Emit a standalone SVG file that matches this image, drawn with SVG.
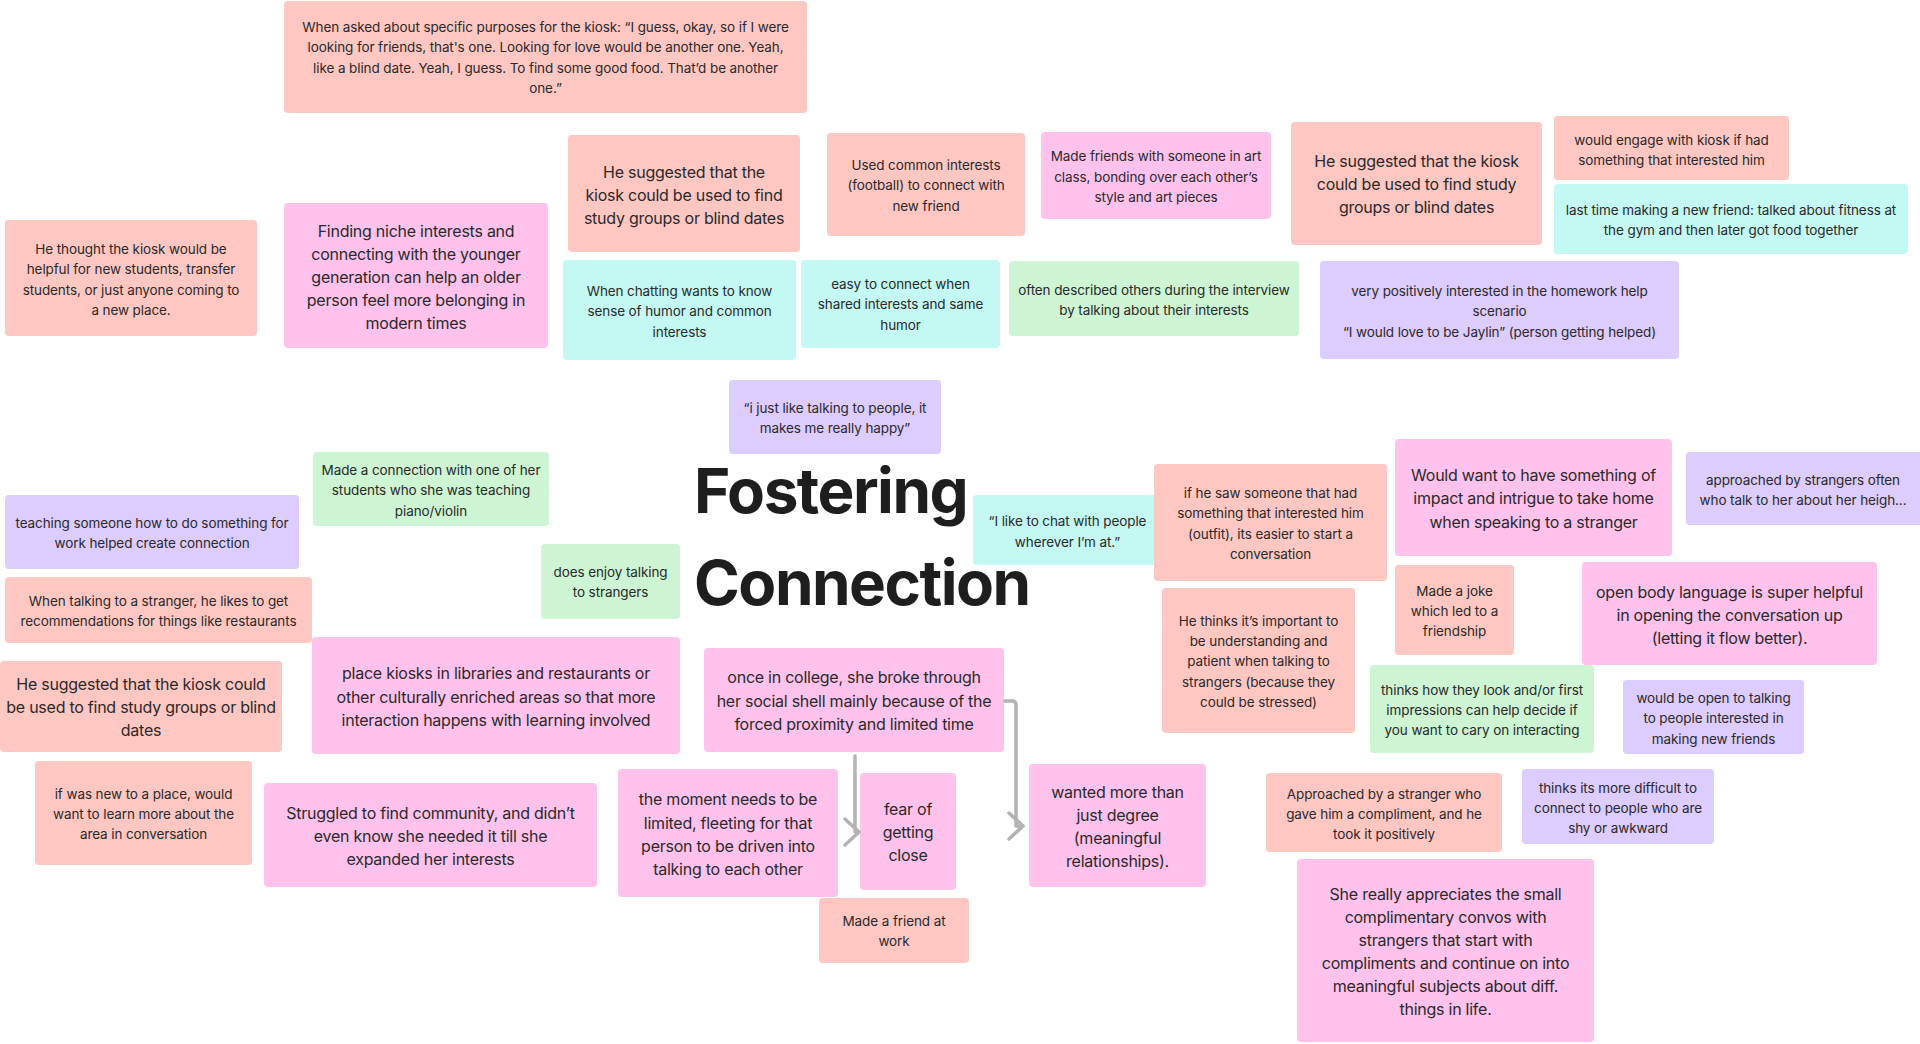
<svg xmlns="http://www.w3.org/2000/svg" width="1920" height="1044" viewBox="0 0 1920 1044">
<defs>
<style>
.r{fill:#FFC7C2}.p{fill:#FFC2EC}.c{fill:#C4F8F3}.g{fill:#CDF4D3}.v{fill:#DCCCFF}
rect{rx:4px;ry:4px}
text{font-family:Inter,"Noto Sans","Liberation Sans",sans-serif;fill:#2a2a2a;text-anchor:middle;dominant-baseline:central}
.s{font-size:13.5px;letter-spacing:-0.1px}.l{font-size:16px;letter-spacing:-0.25px}
.t{font-size:62px;font-weight:700;letter-spacing:-1.5px;fill:#1e1e1e;text-anchor:start;dominant-baseline:alphabetic}
.con{fill:none;stroke:#b3b3b3;stroke-width:3.5;stroke-linecap:round;stroke-linejoin:round}
</style>
<marker id="chev" markerUnits="userSpaceOnUse" markerWidth="20" markerHeight="32" viewBox="-17 -16 20 32" refX="0" refY="0" orient="auto"><path d="M-14,-13 L0,0 L-14,13" fill="none" stroke="#b3b3b3" stroke-width="3.5" stroke-linecap="round" stroke-linejoin="round"/></marker>
</defs>
<rect width="1920" height="1044" fill="#ffffff" style="rx:0"/>

<g id="title"><text class="t" x="694" y="513">Fostering</text><text class="t" x="694" y="605">Connection</text></g>

<g id="n1"><rect class="r" x="284" y="1" width="523" height="112"/><text class="s" y="27"><tspan x="545.5">When asked about specific purposes for the kiosk: “I guess, okay, so if I were</tspan><tspan x="545.5" y="47">looking for friends, that's one. Looking for love would be another one. Yeah,</tspan><tspan x="545.5" y="68">like a blind date. Yeah, I guess. To find some good food. That’d be another</tspan><tspan x="545.5" y="88">one.”</tspan></text></g>

<g id="n2"><rect class="r" x="5" y="220" width="252" height="116"/><text class="s" y="249"><tspan x="131">He thought the kiosk would be</tspan><tspan x="131" y="269">helpful for new students, transfer</tspan><tspan x="131" y="290">students, or just anyone coming to</tspan><tspan x="131" y="310">a new place.</tspan></text></g>

<g id="n3"><rect class="p" x="284" y="203" width="264" height="145"/><text class="l" y="231"><tspan x="416">Finding niche interests and</tspan><tspan x="416" y="254">connecting with the younger</tspan><tspan x="416" y="277">generation can help an older</tspan><tspan x="416" y="300">person feel more belonging in</tspan><tspan x="416" y="323">modern times</tspan></text></g>

<g id="n4"><rect class="r" x="568" y="135" width="232" height="117"/><text class="l" y="172"><tspan x="684">He suggested that the</tspan><tspan x="684" y="195">kiosk could be used to find</tspan><tspan x="684" y="218">study groups or blind dates</tspan></text></g>

<g id="n5"><rect class="r" x="827" y="133" width="198" height="103"/><text class="s" y="165"><tspan x="926">Used common interests</tspan><tspan x="926" y="185">(football) to connect with</tspan><tspan x="926" y="206">new friend</tspan></text></g>

<g id="n6"><rect class="p" x="1041" y="132" width="230" height="87"/><text class="s" y="156"><tspan x="1156">Made friends with someone in art</tspan><tspan x="1156" y="177">class, bonding over each other’s</tspan><tspan x="1156" y="197">style and art pieces</tspan></text></g>

<g id="n7"><rect class="r" x="1291" y="122" width="251" height="123"/><text class="l" y="161"><tspan x="1416.5">He suggested that the kiosk</tspan><tspan x="1416.5" y="184">could be used to find study</tspan><tspan x="1416.5" y="207">groups or blind dates</tspan></text></g>

<g id="n8"><rect class="r" x="1554" y="116" width="235" height="64"/><text class="s" y="140"><tspan x="1671.5">would engage with kiosk if had</tspan><tspan x="1671.5" y="160">something that interested him</tspan></text></g>

<g id="n9"><rect class="c" x="1554" y="184" width="354" height="70"/><text class="s" y="210"><tspan x="1731">last time making a new friend: talked about fitness at</tspan><tspan x="1731" y="230">the gym and then later got food together</tspan></text></g>

<g id="n10"><rect class="c" x="563" y="260" width="233" height="100"/><text class="s" y="291"><tspan x="679.5">When chatting wants to know</tspan><tspan x="679.5" y="311">sense of humor and common</tspan><tspan x="679.5" y="332">interests</tspan></text></g>

<g id="n11"><rect class="c" x="801" y="260" width="199" height="88"/><text class="s" y="284"><tspan x="900.5">easy to connect when</tspan><tspan x="900.5" y="304">shared interests and same</tspan><tspan x="900.5" y="325">humor</tspan></text></g>

<g id="n12"><rect class="g" x="1009" y="261" width="290" height="75"/><text class="s" y="290"><tspan x="1154">often described others during the interview</tspan><tspan x="1154" y="310">by talking about their interests</tspan></text></g>

<g id="n13"><rect class="v" x="1320" y="261" width="359" height="98"/><text class="s" y="291"><tspan x="1499.5">very positively interested in the homework help</tspan><tspan x="1499.5" y="311">scenario</tspan><tspan x="1499.5" y="332">“I would love to be Jaylin” (person getting helped)</tspan></text></g>

<g id="n14"><rect class="v" x="729" y="380" width="212" height="74"/><text class="s" y="408"><tspan x="835">“i just like talking to people, it</tspan><tspan x="835" y="428">makes me really happy”</tspan></text></g>

<g id="n15"><rect class="g" x="313" y="452" width="236" height="74"/><text class="s" y="470"><tspan x="431">Made a connection with one of her</tspan><tspan x="431" y="490">students who she was teaching</tspan><tspan x="431" y="511">piano/violin</tspan></text></g>

<g id="n16"><rect class="v" x="5" y="495" width="294" height="74"/><text class="s" y="523"><tspan x="152">teaching someone how to do something for</tspan><tspan x="152" y="543">work helped create connection</tspan></text></g>

<g id="n17"><rect class="g" x="541" y="544" width="139" height="75"/><text class="s" y="572"><tspan x="610.5">does enjoy talking</tspan><tspan x="610.5" y="592">to strangers</tspan></text></g>

<g id="n18"><rect class="r" x="5" y="577" width="307" height="66"/><text class="s" y="601"><tspan x="158.5">When talking to a stranger, he likes to get</tspan><tspan x="158.5" y="621">recommendations for things like restaurants</tspan></text></g>

<g id="n19"><rect class="r" x="0" y="661" width="282" height="91"/><text class="l" y="684"><tspan x="141">He suggested that the kiosk could</tspan><tspan x="141" y="707">be used to find study groups or blind</tspan><tspan x="141" y="730">dates</tspan></text></g>

<g id="n20"><rect class="p" x="312" y="637" width="368" height="117"/><text class="l" y="673"><tspan x="496">place kiosks in libraries and restaurants or</tspan><tspan x="496" y="697">other culturally enriched areas so that more</tspan><tspan x="496" y="720">interaction happens with learning involved</tspan></text></g>

<g id="n21"><rect class="p" x="704" y="648" width="300" height="104"/><text class="l" y="677"><tspan x="854">once in college, she broke through</tspan><tspan x="854" y="701">her social shell mainly because of the</tspan><tspan x="854" y="724">forced proximity and limited time</tspan></text></g>

<g id="n22"><rect class="c" x="973" y="495" width="189" height="70"/><text class="s" y="521"><tspan x="1067.5">“I like to chat with people</tspan><tspan x="1067.5" y="542">wherever I’m at.”</tspan></text></g>

<g id="n23"><rect class="r" x="1154" y="464" width="233" height="117"/><text class="s" y="493"><tspan x="1270.5">if he saw someone that had</tspan><tspan x="1270.5" y="513">something that interested him</tspan><tspan x="1270.5" y="534">(outfit),  its easier to start a</tspan><tspan x="1270.5" y="554">conversation</tspan></text></g>

<g id="n24"><rect class="r" x="1162" y="588" width="193" height="145"/><text class="s" y="621"><tspan x="1258.5">He thinks it’s important to</tspan><tspan x="1258.5" y="641">be understanding and</tspan><tspan x="1258.5" y="661">patient when talking to</tspan><tspan x="1258.5" y="682">strangers (because they</tspan><tspan x="1258.5" y="702">could be stressed)</tspan></text></g>

<g id="n25"><rect class="p" x="1395" y="439" width="277" height="117"/><text class="l" y="475"><tspan x="1533.5">Would want to have something of</tspan><tspan x="1533.5" y="498">impact and intrigue to take home</tspan><tspan x="1533.5" y="522">when speaking to a stranger</tspan></text></g>

<g id="n26"><rect class="v" x="1686" y="452" width="236" height="73"/><text class="s" y="480"><tspan x="1803">approached by strangers often</tspan><tspan x="1803" y="500">who talk to her about her heigh...</tspan></text></g>

<g id="n27"><rect class="r" x="1395" y="565" width="119" height="90"/><text class="s" y="591"><tspan x="1454.5">Made a joke</tspan><tspan x="1454.5" y="611">which led to a</tspan><tspan x="1454.5" y="631">friendship</tspan></text></g>

<g id="n28"><rect class="p" x="1582" y="562" width="295" height="103"/><text class="l" y="592"><tspan x="1729.5">open body language is super helpful</tspan><tspan x="1729.5" y="615">in opening the conversation up</tspan><tspan x="1729.5" y="638">(letting it flow better).</tspan></text></g>

<g id="n29"><rect class="g" x="1370" y="665" width="224" height="88"/><text class="s" y="690"><tspan x="1482">thinks how they look and/or first</tspan><tspan x="1482" y="710">impressions can help decide if</tspan><tspan x="1482" y="730">you want to cary on interacting</tspan></text></g>

<g id="n30"><rect class="v" x="1623" y="680" width="181" height="74"/><text class="s" y="698"><tspan x="1713.5">would be open to talking</tspan><tspan x="1713.5" y="718">to people interested in</tspan><tspan x="1713.5" y="739">making new friends</tspan></text></g>

<g id="n31"><rect class="r" x="35" y="761" width="217" height="104"/><text class="s" y="794"><tspan x="143.5">if was new to a place, would</tspan><tspan x="143.5" y="814">want to learn more about the</tspan><tspan x="143.5" y="834">area in conversation</tspan></text></g>

<g id="n32"><rect class="p" x="264" y="783" width="333" height="104"/><text class="l" y="813"><tspan x="430.5">Struggled to find community, and didn’t</tspan><tspan x="430.5" y="836">even know she needed it till she</tspan><tspan x="430.5" y="859">expanded her interests</tspan></text></g>

<g id="n33"><rect class="p" x="618" y="769" width="220" height="128"/><text class="l" y="799"><tspan x="728">the moment needs to be</tspan><tspan x="728" y="823">limited, fleeting for that</tspan><tspan x="728" y="846">person to be driven into</tspan><tspan x="728" y="869">talking to each other</tspan></text></g>

<g id="n34"><rect class="p" x="860" y="773" width="96" height="117"/><text class="l" y="809"><tspan x="908">fear of</tspan><tspan x="908" y="832">getting</tspan><tspan x="908" y="855">close</tspan></text></g>

<g id="n35"><rect class="p" x="1029" y="764" width="177" height="123"/><text class="l" y="792"><tspan x="1117.5">wanted more than</tspan><tspan x="1117.5" y="815">just degree</tspan><tspan x="1117.5" y="838">(meaningful</tspan><tspan x="1117.5" y="861">relationships).</tspan></text></g>

<g id="n36"><rect class="r" x="819" y="898" width="150" height="65"/><text class="s" y="921"><tspan x="894">Made a friend at</tspan><tspan x="894" y="941">work</tspan></text></g>

<g id="n37"><rect class="r" x="1266" y="773" width="236" height="79"/><text class="s" y="794"><tspan x="1384">Approached by a stranger who</tspan><tspan x="1384" y="814">gave him a compliment, and he</tspan><tspan x="1384" y="834">took it positively</tspan></text></g>

<g id="n38"><rect class="v" x="1522" y="769" width="192" height="75"/><text class="s" y="788"><tspan x="1618">thinks its more difficult to</tspan><tspan x="1618" y="808">connect to people who are</tspan><tspan x="1618" y="828">shy or awkward</tspan></text></g>

<g id="n39"><rect class="p" x="1297" y="859" width="297" height="183"/><text class="l" y="894"><tspan x="1445.5">She really appreciates the small</tspan><tspan x="1445.5" y="917">complimentary convos with</tspan><tspan x="1445.5" y="940">strangers that start with</tspan><tspan x="1445.5" y="963">compliments and continue on into</tspan><tspan x="1445.5" y="986">meaningful subjects about diff.</tspan><tspan x="1445.5" y="1009">things in life.</tspan></text></g>

<g id="connectors">
<path class="con" d="M855,756 L855,832 L859,832" marker-end="url(#chev)"/>
<path class="con" d="M1005,701 L1012,701 Q1016,701 1016,705 L1016,826 L1023,826" marker-end="url(#chev)"/>
</g>
</svg>
